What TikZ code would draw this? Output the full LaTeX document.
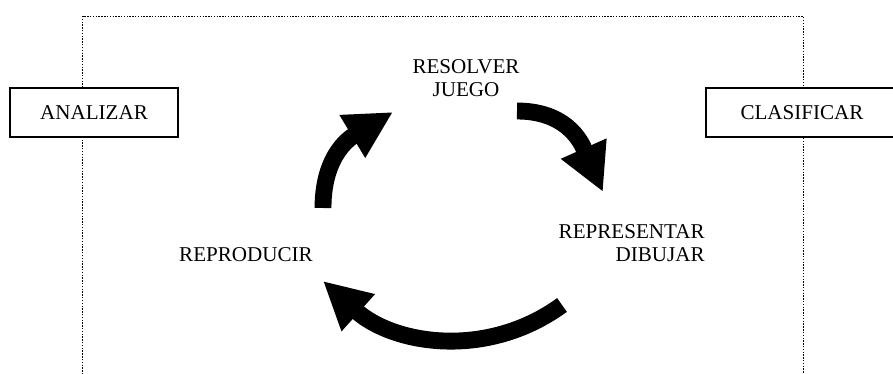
\documentclass[tikz,border=0pt]{standalone}
\usepackage{fontspec}
\setmainfont{Liberation Serif}
\usetikzlibrary{arrows.meta}

\tikzset{
  phase/.style={draw,line width=1pt,fill=white,minimum height=0.98cm,inner sep=0pt},
  stage/.style={font=\fontsize{12}{13.6}\selectfont,inner sep=0pt},
  bigarrow/.style={line width=9.6pt,-{Triangle[length=0.95cm,width=0.93cm]}}
}

\begin{document}
\begin{tikzpicture}[x=0.02cm,y=-0.02cm]
  \useasboundingbox (0,0) rectangle (893,374);
  \draw[line width=1.1pt,dash pattern=on 0.8pt off 0.8pt] (82.5,380) -- (82.5,16.5) -- (803.5,16.5) -- (803.5,380);

  \node[phase,minimum width=3.36cm,font=\fontsize{12}{13.6}\selectfont] (analizar) at (94,112.5) {ANALIZAR};
  \node[phase,minimum width=3.84cm,font=\fontsize{12}{13.6}\selectfont] (clasificar) at (802,112.5) {CLASIFICAR};

  \node[stage,align=center,anchor=base] (resolver) at (466,97) {RESOLVER\\JUEGO};
  \node[stage,align=right,anchor=base east] (representar) at (705,262) {REPRESENTAR\\DIBUJAR};
  \node[stage,anchor=base] (reproducir) at (246,262) {REPRODUCIR};

  % cycle arrows
  \coordinate (s1) at (323,208);
  \coordinate (t1) at (393,112);
  \coordinate (s2) at (517,111);
  \coordinate (t2) at (603,192);
  \coordinate (s3) at (562,305);
  \coordinate (t3) at (323,281);
  \draw[bigarrow] (s1) to[out=90,in=211,out looseness=1.2] (t1);
  \draw[bigarrow] (s2) to[out=0,in=114,out looseness=1.2] (t2);
  \draw[bigarrow] (s3) to[out=216,in=-42] (t3);
\end{tikzpicture}
\end{document}
